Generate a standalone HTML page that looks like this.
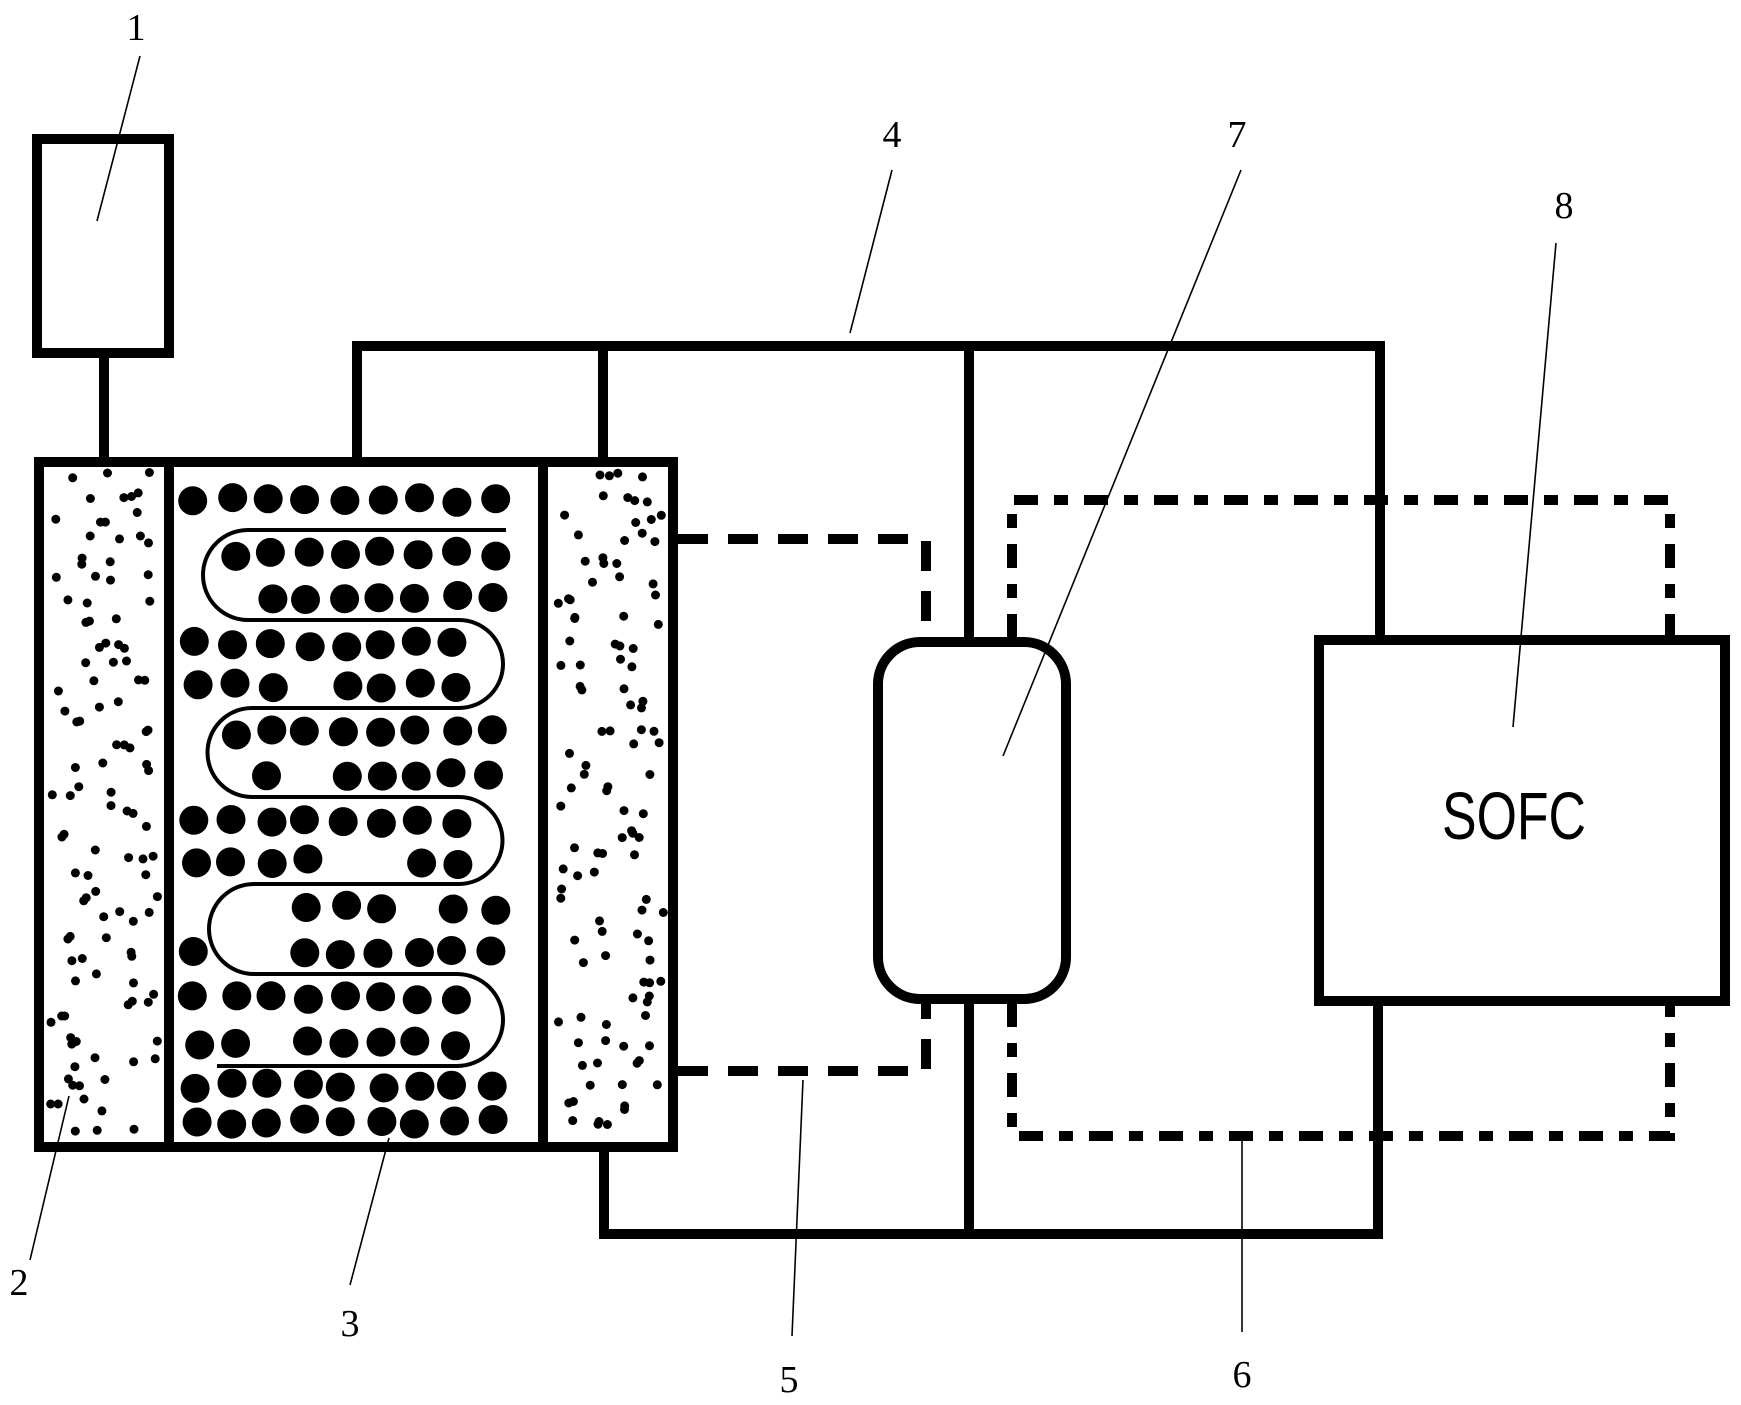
<!DOCTYPE html>
<html><head><meta charset="utf-8"><style>
html,body{margin:0;padding:0;background:#fff;}
svg{display:block;}
text{font-family:"Liberation Serif",serif;fill:#000;}
</style></head><body>
<svg id="s" width="1741" height="1405" viewBox="0 0 1741 1405" xmlns="http://www.w3.org/2000/svg">
<g id="dots"></g>
<g fill="none" stroke="#000" stroke-width="10" stroke-linejoin="miter" stroke-linecap="square">
  <rect x="37" y="139" width="132" height="214"/>
  <line x1="104" y1="353" x2="104" y2="462"/>
  <rect x="39" y="462" width="634" height="685"/>
  <line x1="169" y1="462" x2="169" y2="1147"/>
  <line x1="543" y1="462" x2="543" y2="1147"/>
  <path d="M357,462 V346 H1380 V640"/>
  <path d="M603,462 V346"/>
  <path d="M969,346 V642"/>
  <path d="M604,1147 V1234 H1378 V1001"/>
  <path d="M969,999 V1234"/>
  <rect x="878" y="642" width="188" height="357" rx="42" ry="42"/>
  <rect x="1319" y="640" width="406" height="361"/>
</g>
<g fill="none" stroke="#000" stroke-width="10" stroke-linecap="butt">
  <path d="M678,539 H926 V638" stroke-dasharray="30 20"/>
  <path d="M678,1071 H926 V1003" stroke-dasharray="30 20"/>
  <path d="M1012,638 V500 H1670 V635" stroke-dasharray="24 16 14 16"/>
  <path d="M1012,1003 V1136 H1670 V1006" stroke-dasharray="24 16 14 16"/>
</g>
<path fill="none" stroke="#000" stroke-width="4" d="M506,530 L248,530 A45,45 0 0 0 248,620 L459,620 A44,44 0 0 1 459,708 L252,708 A44.5,44.5 0 0 0 252,797 L459,797 A43.5,43.5 0 0 1 459,884 L254,884 A45,45 0 0 0 254,974 L457,974 A46,46 0 0 1 457,1066 L217,1066"/>
<g stroke="#000" stroke-width="1.6">
  <line x1="140" y1="56" x2="97" y2="221"/>
  <line x1="892" y1="170" x2="850" y2="333"/>
  <line x1="1241" y1="170" x2="1003" y2="756"/>
  <line x1="1556" y1="243" x2="1513" y2="727"/>
  <line x1="30" y1="1260" x2="69" y2="1096"/>
  <line x1="350" y1="1285" x2="389" y2="1138"/>
  <line x1="792" y1="1336" x2="803" y2="1080"/>
  <line x1="1242" y1="1332" x2="1242" y2="1141"/>
</g>
<g font-size="38" text-anchor="middle">
  <text x="136" y="40">1</text>
  <text x="892" y="147">4</text>
  <text x="1237" y="147">7</text>
  <text x="1564" y="218">8</text>
  <text x="19" y="1295">2</text>
  <text x="350" y="1336">3</text>
  <text x="789" y="1392">5</text>
  <text x="1242" y="1387">6</text>
</g>
<text x="1442" y="839" font-size="67" textLength="144" lengthAdjust="spacingAndGlyphs" style="font-family:'Liberation Sans',sans-serif">SOFC</text>
</svg>
<script>
(function(){
var g=document.getElementById('dots');var ns='http://www.w3.org/2000/svg';
var seed=7;function r(){seed=(seed*16807)%2147483647;return seed/2147483647;}
function c(x,y,rad){var e=document.createElementNS(ns,'circle');e.setAttribute('cx',x);e.setAttribute('cy',y);e.setAttribute('r',rad);g.appendChild(e);}
[[50,158],[556,664]].forEach(function(b){
  for(var y=475;y<1140;y+=21){
    var n=3+Math.floor(r()*2);
    for(var i=0;i<n;i++){var x=b[0]+r()*(b[1]-b[0]);c(x.toFixed(1),(y+r()*12-6).toFixed(1),4.5);}
  }
});
var lines=[530,620,708,797,884,974,1066];
var turns=[{y1:530,y2:620,cx:248,left:1},{y1:620,y2:708,cx:459,left:0},{y1:708,y2:797,cx:252,left:1},{y1:797,y2:884,cx:459,left:0},{y1:884,y2:974,cx:254,left:1},{y1:974,y2:1066,cx:457,left:0}];
function ok(x,y){
  for(var i=0;i<lines.length;i++){ if(Math.abs(y-lines[i])<17){ var x0=(i==0)?248:(i==6?217:252), x1=(i==0)?506:459; if(x>x0-5&&x<x1+5) return false;} }
  for(var j=0;j<turns.length;j++){var t=turns[j];var cy=(t.y1+t.y2)/2,rr=(t.y2-t.y1)/2;
    if(t.left?x<t.cx:x>t.cx){var d=Math.hypot(x-t.cx,y-cy);if(Math.abs(d-rr)<17)return false;}}
  return true;
}
var rows=[500];
for(var k=0;k<6;k++){rows.push(lines[k]+24);rows.push(lines[k+1]-22);}
rows.push(1086);rows.push(1122);
rows.forEach(function(y){
  for(var x=196;x<525;x+=37){
    var xx=x+r()*8-4, yy=y+r()*6-3;
    if(xx>523)xx=523;
    if(r()<0.05&&y>560&&y<1070)continue;
    if(ok(xx,yy))c(xx.toFixed(1),yy.toFixed(1),14.5);
  }
});
})();
</script>
</body></html>
